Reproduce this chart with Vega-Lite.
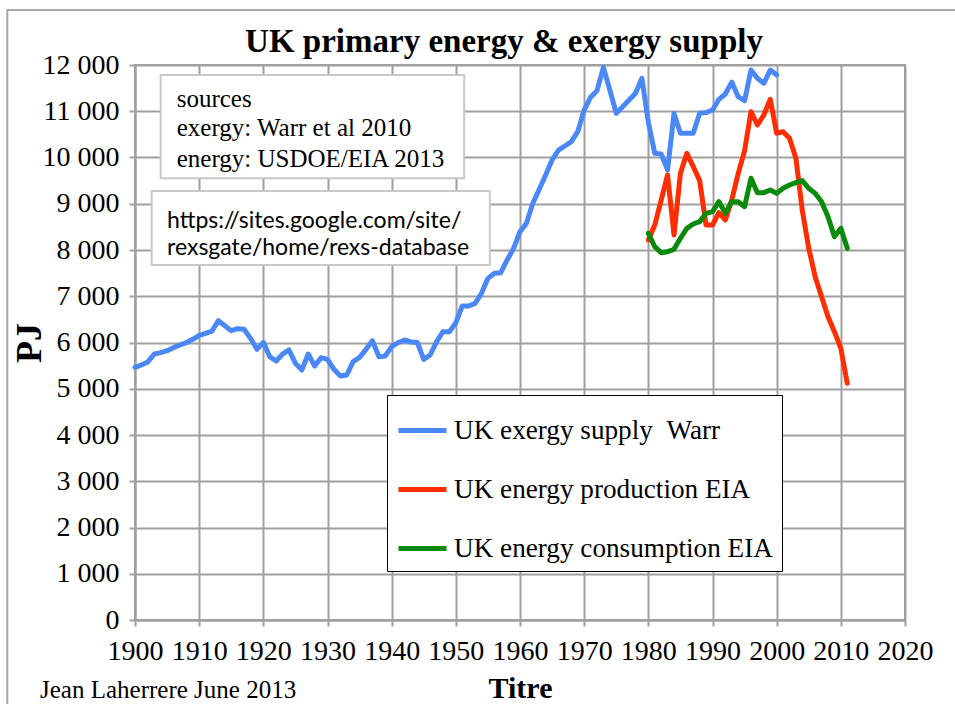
{
  "$schema": "https://vega.github.io/schema/vega-lite/v6.json",
  "width": 770,
  "height": 555,
  "autosize": {"type": "none"},
  "padding": {"left": 135, "top": 65, "right": 50, "bottom": 84},
  "background": "white",
  "title": {
    "text": "UK primary energy & exergy supply",
    "font": "Liberation Serif",
    "fontSize": 33,
    "fontWeight": "bold",
    "color": "black",
    "anchor": "middle",
    "dx": -16,
    "offset": -50
  },
  "config": {
    "view": {"stroke": "#a0a0a0", "strokeWidth": 2},
    "axis": {
      "labelFont": "Liberation Serif",
      "labelFontSize": 28,
      "labelColor": "black",
      "domainColor": "#a0a0a0",
      "domainWidth": 2,
      "tickColor": "#a0a0a0",
      "tickWidth": 2,
      "tickSize": 6,
      "gridColor": "#a0a0a0",
      "gridWidth": 2,
      "titleFont": "Liberation Serif",
      "titleFontWeight": "bold",
      "titleColor": "black",
      "labelOverlap": false,
      "labelFlush": false
    },
    "legend": {
      "orient": "none",
      "legendX": 252,
      "legendY": 330,
      "strokeColor": "black",
      "fillColor": "white",
      "padding": 9,
      "symbolType": "stroke",
      "symbolSize": 2304,
      "symbolStrokeWidth": 5,
      "labelFont": "Liberation Serif",
      "labelFontSize": 27.2,
      "labelColor": "black",
      "labelLimit": 500,
      "labelOffset": 5,
      "rowPadding": 19
    }
  },
  "datasets": {
    "frame": [{"x": 1880.1, "x2": 2035, "y": 13189, "y2": -3000}],
    "boxes": [
      {"x": 1904.0, "x2": 1951.3, "y": 11783, "y2": 9550},
      {"x": 1902.6, "x2": 1955.3, "y": 9275, "y2": 7675}
    ],
    "notes": [
      {"group": "serif", "x": 1906.5, "y": 11098, "text": "sources"},
      {"group": "serif", "x": 1906.5, "y": 10464, "text": "exergy: Warr et al 2010"},
      {"group": "serif", "x": 1906.5, "y": 9800, "text": "energy: USDOE/EIA 2013"},
      {"group": "sans", "x": 1905.0, "y": 8475, "text": "https://sites.google.com/site/"},
      {"group": "sans", "x": 1905.0, "y": 7892, "text": "rexsgate/home/rexs-database"},
      {"group": "author", "x": 1885.2, "y": -1686, "text": "Jean Laherrere June 2013"}
    ],
    "series": [
      {"series": "UK exergy supply \u00a0Warr", "year": 1900, "value": 5464},
      {"series": "UK exergy supply \u00a0Warr", "year": 1901, "value": 5514},
      {"series": "UK exergy supply \u00a0Warr", "year": 1902, "value": 5580},
      {"series": "UK exergy supply \u00a0Warr", "year": 1903, "value": 5751},
      {"series": "UK exergy supply \u00a0Warr", "year": 1904, "value": 5780},
      {"series": "UK exergy supply \u00a0Warr", "year": 1905, "value": 5823},
      {"series": "UK exergy supply \u00a0Warr", "year": 1906, "value": 5888},
      {"series": "UK exergy supply \u00a0Warr", "year": 1907, "value": 5946},
      {"series": "UK exergy supply \u00a0Warr", "year": 1908, "value": 5996},
      {"series": "UK exergy supply \u00a0Warr", "year": 1909, "value": 6069},
      {"series": "UK exergy supply \u00a0Warr", "year": 1910, "value": 6155},
      {"series": "UK exergy supply \u00a0Warr", "year": 1911, "value": 6198},
      {"series": "UK exergy supply \u00a0Warr", "year": 1912, "value": 6248},
      {"series": "UK exergy supply \u00a0Warr", "year": 1913, "value": 6472},
      {"series": "UK exergy supply \u00a0Warr", "year": 1914, "value": 6364},
      {"series": "UK exergy supply \u00a0Warr", "year": 1915, "value": 6256},
      {"series": "UK exergy supply \u00a0Warr", "year": 1916, "value": 6299},
      {"series": "UK exergy supply \u00a0Warr", "year": 1917, "value": 6285},
      {"series": "UK exergy supply \u00a0Warr", "year": 1918, "value": 6090},
      {"series": "UK exergy supply \u00a0Warr", "year": 1919, "value": 5852},
      {"series": "UK exergy supply \u00a0Warr", "year": 1920, "value": 6004},
      {"series": "UK exergy supply \u00a0Warr", "year": 1921, "value": 5694},
      {"series": "UK exergy supply \u00a0Warr", "year": 1922, "value": 5600},
      {"series": "UK exergy supply \u00a0Warr", "year": 1923, "value": 5751},
      {"series": "UK exergy supply \u00a0Warr", "year": 1924, "value": 5838},
      {"series": "UK exergy supply \u00a0Warr", "year": 1925, "value": 5550},
      {"series": "UK exergy supply \u00a0Warr", "year": 1926, "value": 5405},
      {"series": "UK exergy supply \u00a0Warr", "year": 1927, "value": 5751},
      {"series": "UK exergy supply \u00a0Warr", "year": 1928, "value": 5492},
      {"series": "UK exergy supply \u00a0Warr", "year": 1929, "value": 5672},
      {"series": "UK exergy supply \u00a0Warr", "year": 1930, "value": 5636},
      {"series": "UK exergy supply \u00a0Warr", "year": 1931, "value": 5420},
      {"series": "UK exergy supply \u00a0Warr", "year": 1932, "value": 5276},
      {"series": "UK exergy supply \u00a0Warr", "year": 1933, "value": 5297},
      {"series": "UK exergy supply \u00a0Warr", "year": 1934, "value": 5585},
      {"series": "UK exergy supply \u00a0Warr", "year": 1935, "value": 5679},
      {"series": "UK exergy supply \u00a0Warr", "year": 1936, "value": 5852},
      {"series": "UK exergy supply \u00a0Warr", "year": 1937, "value": 6040},
      {"series": "UK exergy supply \u00a0Warr", "year": 1938, "value": 5694},
      {"series": "UK exergy supply \u00a0Warr", "year": 1939, "value": 5708},
      {"series": "UK exergy supply \u00a0Warr", "year": 1940, "value": 5910},
      {"series": "UK exergy supply \u00a0Warr", "year": 1941, "value": 5996},
      {"series": "UK exergy supply \u00a0Warr", "year": 1942, "value": 6054},
      {"series": "UK exergy supply \u00a0Warr", "year": 1943, "value": 6011},
      {"series": "UK exergy supply \u00a0Warr", "year": 1944, "value": 6000},
      {"series": "UK exergy supply \u00a0Warr", "year": 1945, "value": 5636},
      {"series": "UK exergy supply \u00a0Warr", "year": 1946, "value": 5730},
      {"series": "UK exergy supply \u00a0Warr", "year": 1947, "value": 6018},
      {"series": "UK exergy supply \u00a0Warr", "year": 1948, "value": 6234},
      {"series": "UK exergy supply \u00a0Warr", "year": 1949, "value": 6234},
      {"series": "UK exergy supply \u00a0Warr", "year": 1950, "value": 6429},
      {"series": "UK exergy supply \u00a0Warr", "year": 1951, "value": 6789},
      {"series": "UK exergy supply \u00a0Warr", "year": 1952, "value": 6789},
      {"series": "UK exergy supply \u00a0Warr", "year": 1953, "value": 6847},
      {"series": "UK exergy supply \u00a0Warr", "year": 1954, "value": 7063},
      {"series": "UK exergy supply \u00a0Warr", "year": 1955, "value": 7387},
      {"series": "UK exergy supply \u00a0Warr", "year": 1956, "value": 7495},
      {"series": "UK exergy supply \u00a0Warr", "year": 1957, "value": 7510},
      {"series": "UK exergy supply \u00a0Warr", "year": 1958, "value": 7784},
      {"series": "UK exergy supply \u00a0Warr", "year": 1959, "value": 8036},
      {"series": "UK exergy supply \u00a0Warr", "year": 1960, "value": 8396},
      {"series": "UK exergy supply \u00a0Warr", "year": 1961, "value": 8576},
      {"series": "UK exergy supply \u00a0Warr", "year": 1962, "value": 9009},
      {"series": "UK exergy supply \u00a0Warr", "year": 1963, "value": 9312},
      {"series": "UK exergy supply \u00a0Warr", "year": 1964, "value": 9622},
      {"series": "UK exergy supply \u00a0Warr", "year": 1965, "value": 9946},
      {"series": "UK exergy supply \u00a0Warr", "year": 1966, "value": 10162},
      {"series": "UK exergy supply \u00a0Warr", "year": 1967, "value": 10249},
      {"series": "UK exergy supply \u00a0Warr", "year": 1968, "value": 10342},
      {"series": "UK exergy supply \u00a0Warr", "year": 1969, "value": 10558},
      {"series": "UK exergy supply \u00a0Warr", "year": 1970, "value": 11027},
      {"series": "UK exergy supply \u00a0Warr", "year": 1971, "value": 11301},
      {"series": "UK exergy supply \u00a0Warr", "year": 1972, "value": 11445},
      {"series": "UK exergy supply \u00a0Warr", "year": 1973, "value": 11950},
      {"series": "UK exergy supply \u00a0Warr", "year": 1974, "value": 11459},
      {"series": "UK exergy supply \u00a0Warr", "year": 1975, "value": 10956},
      {"series": "UK exergy supply \u00a0Warr", "year": 1976, "value": 11099},
      {"series": "UK exergy supply \u00a0Warr", "year": 1977, "value": 11243},
      {"series": "UK exergy supply \u00a0Warr", "year": 1978, "value": 11387},
      {"series": "UK exergy supply \u00a0Warr", "year": 1979, "value": 11712},
      {"series": "UK exergy supply \u00a0Warr", "year": 1980, "value": 10770},
      {"series": "UK exergy supply \u00a0Warr", "year": 1981, "value": 10090},
      {"series": "UK exergy supply \u00a0Warr", "year": 1982, "value": 10075},
      {"series": "UK exergy supply \u00a0Warr", "year": 1983, "value": 9730},
      {"series": "UK exergy supply \u00a0Warr", "year": 1984, "value": 10950},
      {"series": "UK exergy supply \u00a0Warr", "year": 1985, "value": 10523},
      {"series": "UK exergy supply \u00a0Warr", "year": 1986, "value": 10523},
      {"series": "UK exergy supply \u00a0Warr", "year": 1987, "value": 10523},
      {"series": "UK exergy supply \u00a0Warr", "year": 1988, "value": 10956},
      {"series": "UK exergy supply \u00a0Warr", "year": 1989, "value": 10970},
      {"series": "UK exergy supply \u00a0Warr", "year": 1990, "value": 11027},
      {"series": "UK exergy supply \u00a0Warr", "year": 1991, "value": 11258},
      {"series": "UK exergy supply \u00a0Warr", "year": 1992, "value": 11373},
      {"series": "UK exergy supply \u00a0Warr", "year": 1993, "value": 11630},
      {"series": "UK exergy supply \u00a0Warr", "year": 1994, "value": 11315},
      {"series": "UK exergy supply \u00a0Warr", "year": 1995, "value": 11229},
      {"series": "UK exergy supply \u00a0Warr", "year": 1996, "value": 11892},
      {"series": "UK exergy supply \u00a0Warr", "year": 1997, "value": 11712},
      {"series": "UK exergy supply \u00a0Warr", "year": 1998, "value": 11604},
      {"series": "UK exergy supply \u00a0Warr", "year": 1999, "value": 11892},
      {"series": "UK exergy supply \u00a0Warr", "year": 2000, "value": 11784},
      {"series": "UK energy production EIA", "year": 1980, "value": 8216},
      {"series": "UK energy production EIA", "year": 1981, "value": 8540},
      {"series": "UK energy production EIA", "year": 1982, "value": 9081},
      {"series": "UK energy production EIA", "year": 1983, "value": 9622},
      {"series": "UK energy production EIA", "year": 1984, "value": 8324},
      {"series": "UK energy production EIA", "year": 1985, "value": 9658},
      {"series": "UK energy production EIA", "year": 1986, "value": 10090},
      {"series": "UK energy production EIA", "year": 1987, "value": 9802},
      {"series": "UK energy production EIA", "year": 1988, "value": 9500},
      {"series": "UK energy production EIA", "year": 1989, "value": 8540},
      {"series": "UK energy production EIA", "year": 1990, "value": 8540},
      {"series": "UK energy production EIA", "year": 1991, "value": 8807},
      {"series": "UK energy production EIA", "year": 1992, "value": 8649},
      {"series": "UK energy production EIA", "year": 1993, "value": 9081},
      {"series": "UK energy production EIA", "year": 1994, "value": 9650},
      {"series": "UK energy production EIA", "year": 1995, "value": 10150},
      {"series": "UK energy production EIA", "year": 1996, "value": 10991},
      {"series": "UK energy production EIA", "year": 1997, "value": 10703},
      {"series": "UK energy production EIA", "year": 1998, "value": 10919},
      {"series": "UK energy production EIA", "year": 1999, "value": 11258},
      {"series": "UK energy production EIA", "year": 2000, "value": 10523},
      {"series": "UK energy production EIA", "year": 2001, "value": 10559},
      {"series": "UK energy production EIA", "year": 2002, "value": 10415},
      {"series": "UK energy production EIA", "year": 2003, "value": 9982},
      {"series": "UK energy production EIA", "year": 2004, "value": 8850},
      {"series": "UK energy production EIA", "year": 2005, "value": 8036},
      {"series": "UK energy production EIA", "year": 2006, "value": 7423},
      {"series": "UK energy production EIA", "year": 2007, "value": 6991},
      {"series": "UK energy production EIA", "year": 2008, "value": 6559},
      {"series": "UK energy production EIA", "year": 2009, "value": 6234},
      {"series": "UK energy production EIA", "year": 2010, "value": 5874},
      {"series": "UK energy production EIA", "year": 2011, "value": 5117},
      {"series": "UK energy consumption EIA", "year": 1980, "value": 8360},
      {"series": "UK energy consumption EIA", "year": 1981, "value": 8072},
      {"series": "UK energy consumption EIA", "year": 1982, "value": 7942},
      {"series": "UK energy consumption EIA", "year": 1983, "value": 7964},
      {"series": "UK energy consumption EIA", "year": 1984, "value": 8014},
      {"series": "UK energy consumption EIA", "year": 1985, "value": 8252},
      {"series": "UK energy consumption EIA", "year": 1986, "value": 8468},
      {"series": "UK energy consumption EIA", "year": 1987, "value": 8562},
      {"series": "UK energy consumption EIA", "year": 1988, "value": 8613},
      {"series": "UK energy consumption EIA", "year": 1989, "value": 8793},
      {"series": "UK energy consumption EIA", "year": 1990, "value": 8829},
      {"series": "UK energy consumption EIA", "year": 1991, "value": 9045},
      {"series": "UK energy consumption EIA", "year": 1992, "value": 8793},
      {"series": "UK energy consumption EIA", "year": 1993, "value": 9045},
      {"series": "UK energy consumption EIA", "year": 1994, "value": 9045},
      {"series": "UK energy consumption EIA", "year": 1995, "value": 8937},
      {"series": "UK energy consumption EIA", "year": 1996, "value": 9550},
      {"series": "UK energy consumption EIA", "year": 1997, "value": 9240},
      {"series": "UK energy consumption EIA", "year": 1998, "value": 9240},
      {"series": "UK energy consumption EIA", "year": 1999, "value": 9297},
      {"series": "UK energy consumption EIA", "year": 2000, "value": 9225},
      {"series": "UK energy consumption EIA", "year": 2001, "value": 9334},
      {"series": "UK energy consumption EIA", "year": 2002, "value": 9405},
      {"series": "UK energy consumption EIA", "year": 2003, "value": 9456},
      {"series": "UK energy consumption EIA", "year": 2004, "value": 9500},
      {"series": "UK energy consumption EIA", "year": 2005, "value": 9334},
      {"series": "UK energy consumption EIA", "year": 2006, "value": 9225},
      {"series": "UK energy consumption EIA", "year": 2007, "value": 9045},
      {"series": "UK energy consumption EIA", "year": 2008, "value": 8720},
      {"series": "UK energy consumption EIA", "year": 2009, "value": 8288},
      {"series": "UK energy consumption EIA", "year": 2010, "value": 8468},
      {"series": "UK energy consumption EIA", "year": 2011, "value": 8036}
    ]
  },
  "encoding": {
    "x": {
      "type": "quantitative",
      "scale": {"domain": [1900, 2020], "nice": false, "zero": false},
      "axis": {
        "values": [1900, 1910, 1920, 1930, 1940, 1950, 1960, 1970, 1980, 1990, 2000, 2010, 2020],
        "format": "d",
        "title": "Titre",
        "titleFontSize": 30,
        "titlePadding": 8,
        "labelPadding": 11
      }
    },
    "y": {
      "type": "quantitative",
      "scale": {"domain": [0, 12000], "nice": false},
      "axis": {
        "values": [0, 1000, 2000, 3000, 4000, 5000, 6000, 7000, 8000, 9000, 10000, 11000, 12000],
        "labelExpr": "replace(format(datum.value, ','), ',', ' ')",
        "title": "PJ",
        "titleFontSize": 36,
        "titlePadding": -6,
        "labelPadding": 10
      }
    }
  },
  "layer": [
    {
      "data": {"name": "frame"},
      "mark": {"type": "rect", "fill": "transparent", "stroke": "#a8a8a8", "strokeWidth": 2},
      "encoding": {
        "x": {"field": "x", "type": "quantitative"},
        "x2": {"field": "x2"},
        "y": {"field": "y", "type": "quantitative"},
        "y2": {"field": "y2"}
      }
    },
    {
      "data": {"name": "boxes"},
      "mark": {"type": "rect", "fill": "white", "stroke": "#c8c8c8", "strokeWidth": 2},
      "encoding": {
        "x": {"field": "x", "type": "quantitative"},
        "x2": {"field": "x2"},
        "y": {"field": "y", "type": "quantitative"},
        "y2": {"field": "y2"}
      }
    },
    {
      "data": {"name": "notes"},
      "transform": [{"filter": "datum.group === 'serif'"}],
      "mark": {"type": "text", "font": "Liberation Serif", "fontSize": 25, "align": "left", "baseline": "alphabetic", "color": "black"},
      "encoding": {
        "x": {"field": "x", "type": "quantitative"},
        "y": {"field": "y", "type": "quantitative"},
        "text": {"field": "text"}
      }
    },
    {
      "data": {"name": "notes"},
      "transform": [{"filter": "datum.group === 'sans'"}],
      "mark": {"type": "text", "font": "Lato", "fontSize": 23, "align": "left", "baseline": "alphabetic", "color": "black"},
      "encoding": {
        "x": {"field": "x", "type": "quantitative"},
        "y": {"field": "y", "type": "quantitative"},
        "text": {"field": "text"}
      }
    },
    {
      "data": {"name": "notes"},
      "transform": [{"filter": "datum.group === 'author'"}],
      "mark": {"type": "text", "font": "Liberation Serif", "fontSize": 25, "align": "left", "baseline": "alphabetic", "color": "black"},
      "encoding": {
        "x": {"field": "x", "type": "quantitative"},
        "y": {"field": "y", "type": "quantitative"},
        "text": {"field": "text"}
      }
    },
    {
      "data": {"name": "series"},
      "mark": {"type": "line", "strokeWidth": 5, "strokeJoin": "round", "strokeCap": "round"},
      "encoding": {
        "x": {"field": "year", "type": "quantitative"},
        "y": {"field": "value", "type": "quantitative"},
        "color": {
          "field": "series",
          "type": "nominal",
          "scale": {
            "domain": ["UK exergy supply \u00a0Warr", "UK energy production EIA", "UK energy consumption EIA"],
            "range": ["#4a88f8", "#ff2d00", "#0a8a0a"]
          },
          "legend": {"title": null}
        }
      }
    }
  ]
}
